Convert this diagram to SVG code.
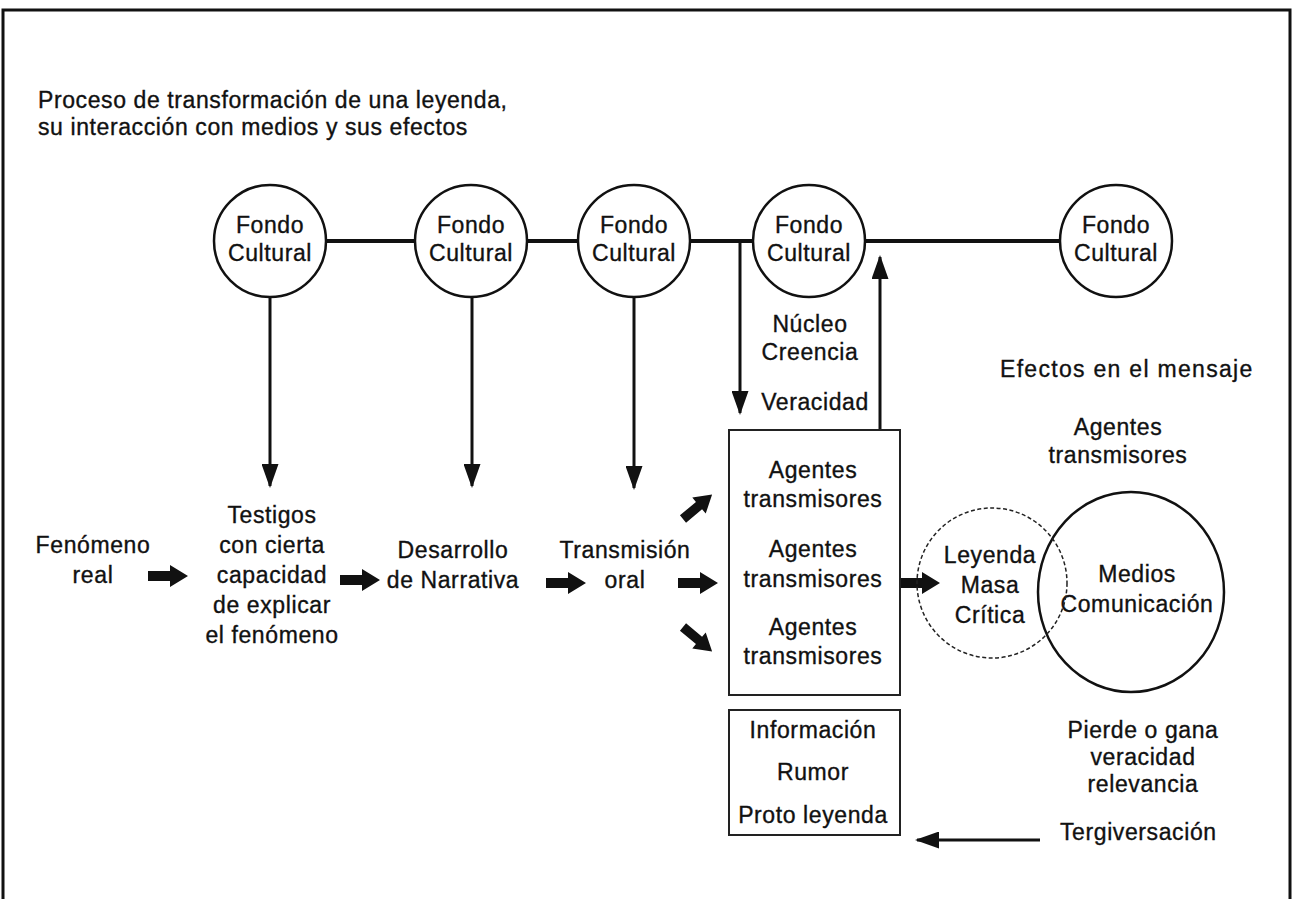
<svg xmlns="http://www.w3.org/2000/svg" width="1293" height="899" viewBox="0 0 1293 899">
<style>
text{font-family:"Liberation Sans",Arial,sans-serif;font-size:23px;fill:#111;stroke:#111;stroke-width:0.35;letter-spacing:0.6px}
.c{text-anchor:middle}
.fc{fill:#fff;stroke:#111;stroke-width:2.5}
.ln{stroke:#111;stroke-width:3;fill:none}
.box{fill:#fff;stroke:#222;stroke-width:2}
.blk{fill:#111}
</style>
<defs>
<marker id="ah" viewBox="0 0 24 17" refX="22" refY="8.5" markerWidth="24" markerHeight="17" markerUnits="userSpaceOnUse" orient="auto">
<path d="M0,0 L24,8.5 L0,17 Z" fill="#111"/>
</marker>
<path id="fat" d="M0,-5 L22,-5 L22,-11 L40,0 L22,11 L22,5 L0,5 Z"/>
</defs>
<rect x="3" y="10" width="1287" height="920" fill="none" stroke="#111" stroke-width="3"/>
<g id="title">
<text x="38" y="108">Proceso de transformación de una leyenda,</text>
<text x="38" y="135">su interacción con medios y sus efectos</text>
</g>
<g id="connectors">
<line x1="270" y1="241" x2="1116" y2="241" stroke="#111" stroke-width="4"/>
<line class="ln" x1="270" y1="297" x2="270" y2="486" marker-end="url(#ah)"/>
<line class="ln" x1="472" y1="297" x2="472" y2="486" marker-end="url(#ah)"/>
<line class="ln" x1="634" y1="297" x2="634" y2="488" marker-end="url(#ah)"/>
<line class="ln" x1="740" y1="241" x2="740" y2="413" marker-end="url(#ah)"/>
<line class="ln" x1="880" y1="430" x2="880" y2="257" marker-end="url(#ah)"/>
<line class="ln" x1="1040" y1="840" x2="917" y2="840" marker-end="url(#ah)"/>
<use href="#fat" class="blk" transform="translate(148,576)"/>
<use href="#fat" class="blk" transform="translate(340,580)"/>
<use href="#fat" class="blk" transform="translate(546,583)"/>
<use href="#fat" class="blk" transform="translate(678,583)"/>
<use href="#fat" class="blk" transform="translate(683,519) rotate(-40) scale(0.95)"/>
<use href="#fat" class="blk" transform="translate(683,627) rotate(40) scale(0.95)"/>
<use href="#fat" class="blk" transform="translate(900,583)"/>
</g>
<g id="fc1"><circle class="fc" cx="270" cy="241" r="56"/><text class="c" x="270" y="233">Fondo</text><text class="c" x="270" y="261">Cultural</text></g>
<g id="fc2"><circle class="fc" cx="471" cy="241" r="56"/><text class="c" x="471" y="233">Fondo</text><text class="c" x="471" y="261">Cultural</text></g>
<g id="fc3"><circle class="fc" cx="634" cy="241" r="56"/><text class="c" x="634" y="233">Fondo</text><text class="c" x="634" y="261">Cultural</text></g>
<g id="fc4"><circle class="fc" cx="809" cy="241" r="56"/><text class="c" x="809" y="233">Fondo</text><text class="c" x="809" y="261">Cultural</text></g>
<g id="fc5"><circle class="fc" cx="1116" cy="241" r="56"/><text class="c" x="1116" y="233">Fondo</text><text class="c" x="1116" y="261">Cultural</text></g>
<g id="fenomeno"><text class="c" x="93" y="553">Fenómeno</text><text class="c" x="93" y="583">real</text></g>
<g id="testigos">
<text class="c" x="272" y="523">Testigos</text>
<text class="c" x="272" y="553">con cierta</text>
<text class="c" x="272" y="583">capacidad</text>
<text class="c" x="272" y="613">de explicar</text>
<text class="c" x="272" y="643">el fenómeno</text>
</g>
<g id="desarrollo"><text class="c" x="453" y="558">Desarrollo</text><text class="c" x="453" y="588">de Narrativa</text></g>
<g id="transmision"><text class="c" x="625" y="558">Transmisión</text><text class="c" x="625" y="588">oral</text></g>
<g id="nucleo">
<text class="c" x="810" y="332">Núcleo</text>
<text class="c" x="810" y="360">Creencia</text>
<text class="c" x="815" y="410">Veracidad</text>
</g>
<g id="agentes-box">
<rect class="box" x="729" y="430" width="171" height="265"/>
<text class="c" x="813" y="478">Agentes</text><text class="c" x="813" y="507">transmisores</text>
<text class="c" x="813" y="557">Agentes</text><text class="c" x="813" y="587">transmisores</text>
<text class="c" x="813" y="635">Agentes</text><text class="c" x="813" y="664">transmisores</text>
</g>
<g id="info-box">
<rect class="box" x="729" y="710" width="171" height="125"/>
<text class="c" x="813" y="738">Información</text>
<text class="c" x="813" y="780">Rumor</text>
<text class="c" x="813" y="823">Proto leyenda</text>
</g>
<g id="efectos"><text x="1000" y="377" style="letter-spacing:1.3px">Efectos en el mensaje</text></g>
<g id="agentes-top"><text class="c" x="1118" y="435">Agentes</text><text class="c" x="1118" y="463">transmisores</text></g>
<g id="medios">
<ellipse cx="1131" cy="592" rx="93" ry="100" fill="none" stroke="#111" stroke-width="2.5"/>
<text class="c" x="1137" y="582">Medios</text><text class="c" x="1137" y="612">Comunicación</text>
</g>
<g id="leyenda">
<circle cx="992" cy="583" r="75" fill="none" stroke="#222" stroke-width="1.5" stroke-dasharray="4 2.5"/>
<text class="c" x="990" y="563">Leyenda</text><text class="c" x="990" y="593">Masa</text><text class="c" x="990" y="623">Crítica</text>
</g>
<g id="pierde">
<text class="c" x="1143" y="738">Pierde o gana</text>
<text class="c" x="1143" y="765">veracidad</text>
<text class="c" x="1143" y="792">relevancia</text>
</g>
<g id="tergiversacion"><text x="1060" y="840">Tergiversación</text></g>
</svg>
